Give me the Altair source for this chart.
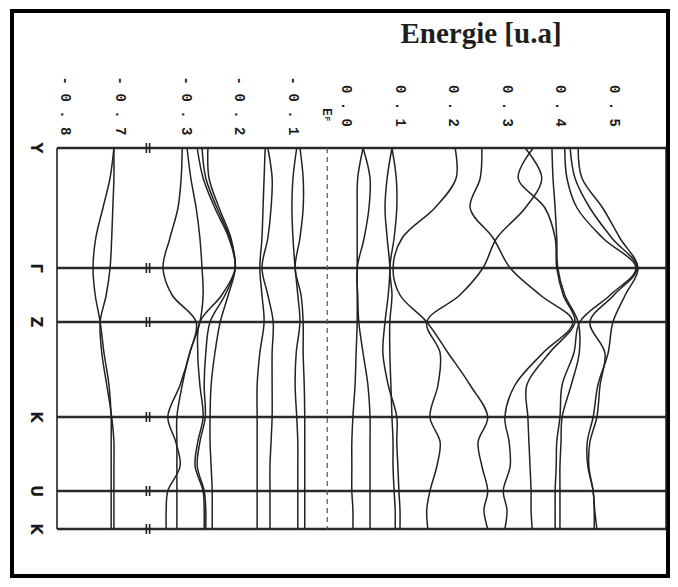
import altair as alt
import pandas as pd

# ---------------- data ----------------
# k-path sample positions (top = Y, bottom = K)
k_samples = [0, 30, 60, 90, 120, 147, 174, 205, 237, 269, 294, 318, 343, 362, 381]
kpoint_labels = ["Y", "Γ", "Z", "K", "U", "K"]
kpoint_pos = [0, 120, 174, 269, 343, 381]

tick_values = [-0.8, -0.7, -0.3, -0.2, -0.1, 0.0, 0.1, 0.2, 0.3, 0.4, 0.5]
tick_labels = ["-0.8", "-0.7", "-0.3", "-0.2", "-0.1", "0.0", "0.1", "0.2", "0.3", "0.4", "0.5"]
fermi_level = -0.036
axis_break = [-0.652, -0.368]

# band energies (u.a) at each k sample
band_L1 = [-0.711, -0.718, -0.731, -0.744, -0.749, -0.745, -0.736, -0.729, -0.720, -0.716, -0.716, -0.716, -0.716, -0.716, -0.716]
band_L2 = [-0.711, -0.711, -0.713, -0.715, -0.718, -0.725, -0.736, -0.733, -0.724, -0.715, -0.711, -0.711, -0.711, -0.711, -0.711]
band_A = [-0.307, -0.309, -0.315, -0.330, -0.343, -0.326, -0.281, -0.293, -0.311, -0.334, -0.319, -0.311, -0.334, -0.337, -0.337]
band_B = [-0.298, -0.291, -0.281, -0.274, -0.270, -0.268, -0.274, -0.293, -0.307, -0.317, -0.317, -0.317, -0.317, -0.317, -0.317]
band_D1 = [-0.279, -0.268, -0.246, -0.220, -0.208, -0.233, -0.274, -0.278, -0.274, -0.268, -0.278, -0.283, -0.268, -0.266, -0.266]
band_D2 = [-0.270, -0.263, -0.242, -0.218, -0.208, -0.227, -0.255, -0.263, -0.266, -0.264, -0.274, -0.279, -0.266, -0.263, -0.263]
band_D3 = [-0.259, -0.257, -0.238, -0.216, -0.208, -0.221, -0.236, -0.246, -0.253, -0.255, -0.255, -0.253, -0.251, -0.251, -0.251]
band_E1 = [-0.152, -0.154, -0.156, -0.158, -0.162, -0.158, -0.154, -0.162, -0.167, -0.167, -0.167, -0.167, -0.167, -0.167, -0.167]
band_E2 = [-0.147, -0.139, -0.141, -0.147, -0.158, -0.147, -0.137, -0.139, -0.139, -0.139, -0.141, -0.143, -0.143, -0.143, -0.143]
band_F1 = [-0.093, -0.100, -0.102, -0.100, -0.096, -0.091, -0.087, -0.094, -0.096, -0.093, -0.091, -0.091, -0.091, -0.091, -0.091]
band_F2 = [-0.087, -0.081, -0.081, -0.087, -0.096, -0.085, -0.081, -0.081, -0.079, -0.078, -0.078, -0.078, -0.078, -0.078, -0.078]
band_G1 = [0.031, 0.021, 0.020, 0.020, 0.020, 0.020, 0.020, 0.018, 0.016, 0.012, 0.010, 0.010, 0.010, 0.012, 0.012]
band_G2 = [0.031, 0.044, 0.042, 0.033, 0.020, 0.021, 0.023, 0.031, 0.040, 0.044, 0.044, 0.044, 0.044, 0.044, 0.044]
band_H1 = [0.085, 0.076, 0.072, 0.076, 0.081, 0.078, 0.072, 0.068, 0.078, 0.094, 0.094, 0.096, 0.098, 0.100, 0.100]
band_H2 = [0.085, 0.093, 0.094, 0.089, 0.081, 0.085, 0.081, 0.081, 0.083, 0.085, 0.087, 0.087, 0.089, 0.091, 0.091]
band_I = [0.203, 0.205, 0.165, 0.104, 0.087, 0.100, 0.150, 0.190, 0.231, 0.264, 0.246, 0.253, 0.264, 0.257, 0.264]
band_K = [0.334, 0.365, 0.334, 0.281, 0.255, 0.212, 0.150, 0.175, 0.171, 0.156, 0.175, 0.169, 0.156, 0.150, 0.152]
band_J = [0.253, 0.250, 0.231, 0.274, 0.306, 0.362, 0.423, 0.367, 0.315, 0.296, 0.304, 0.306, 0.293, 0.300, 0.296]
band_Lb = [0.349, 0.321, 0.371, 0.390, 0.393, 0.405, 0.427, 0.379, 0.337, 0.339, 0.341, 0.343, 0.345, 0.345, 0.347]
band_M = [0.384, 0.386, 0.390, 0.393, 0.395, 0.408, 0.433, 0.435, 0.420, 0.403, 0.401, 0.399, 0.399, 0.399, 0.399]
band_N1 = [0.408, 0.412, 0.431, 0.479, 0.541, 0.493, 0.436, 0.425, 0.403, 0.399, 0.393, 0.392, 0.390, 0.390, 0.390]
band_N2 = [0.418, 0.427, 0.455, 0.496, 0.543, 0.500, 0.455, 0.483, 0.474, 0.468, 0.455, 0.453, 0.461, 0.464, 0.468]
band_N3 = [0.433, 0.440, 0.479, 0.511, 0.545, 0.521, 0.498, 0.489, 0.470, 0.461, 0.450, 0.451, 0.461, 0.463, 0.463]

bands = {
    "L1": band_L1, "L2": band_L2, "A": band_A, "B": band_B, "D1": band_D1,
    "D2": band_D2, "D3": band_D3, "E1": band_E1, "E2": band_E2, "F1": band_F1,
    "F2": band_F2, "G1": band_G1, "G2": band_G2, "H1": band_H1, "H2": band_H2,
    "I": band_I, "K": band_K, "J": band_J, "Lb": band_Lb, "M": band_M,
    "N1": band_N1, "N2": band_N2, "N3": band_N3,
}

# ---------------- layout ----------------
W, H = 609, 381
x_domain = [-0.8145, -0.649, -0.371, 0.5972]   # broken energy axis
x_range = [0, 91, 91, W]
INK = "#222222"

xscale = alt.Scale(domain=x_domain, range=x_range, zero=False, nice=False)
yscale = alt.Scale(domain=[0, 381], reverse=True, zero=False, nice=False)


def X(field="E"):
    return alt.X(f"{field}:Q", scale=xscale, axis=None)


def Y(field="k"):
    return alt.Y(f"{field}:Q", scale=yscale, axis=None)


band_rows = []
for name, vals in bands.items():
    for k, e in zip(k_samples, vals):
        band_rows.append({"band": name, "k": k, "E": e})
band_df = pd.DataFrame(band_rows)

kp_df = pd.DataFrame({"k": kpoint_pos, "label": kpoint_labels})
tick_df = pd.DataFrame({"E": tick_values, "label": tick_labels})
tick_df["disp"] = [" ".join(list(t)) for t in tick_labels]
frame_df = pd.DataFrame({"E": [x_domain[0], x_domain[-1]]})
fermi_df = pd.DataFrame({"E": [fermi_level]})
brk_df = pd.DataFrame([{"k": k, "E": e} for k in kpoint_pos for e in axis_break])
one = pd.DataFrame({"a": [0]})

band_lines = alt.Chart(band_df).mark_line(
    interpolate="catmull-rom", color=INK, strokeWidth=1.5
).encode(x=X(), y=Y(), detail="band:N", order=alt.Order("k:Q"))

k_lines = alt.Chart(kp_df).mark_rule(color="#2a2a2a", strokeWidth=2.6).encode(
    y=Y(), x=alt.value(0), x2=alt.value(W)
)

frame = alt.Chart(frame_df).mark_rule(color=INK, strokeWidth=1.6).encode(
    x=X(), y=alt.value(0), y2=alt.value(H)
)

fermi = alt.Chart(fermi_df).mark_rule(color="#555555", strokeWidth=1.2, strokeDash=[5, 4]).encode(
    x=X(), y=alt.value(0), y2=alt.value(H)
)

breaks = alt.Chart(brk_df).transform_calculate(
    k_lo="datum.k - 5", k_hi="datum.k + 5"
).mark_rule(color=INK, strokeWidth=1.6).encode(x=X(), y=Y("k_lo"), y2="k_hi:Q")

tick_text = alt.Chart(tick_df).mark_text(
    angle=90, font="Liberation Mono", fontWeight="bold", fontSize=14,
    align="center", baseline="middle", color="#1a1a1a"
).encode(x=X(), y=alt.value(-42), text="disp:N")

ef_E = alt.Chart(fermi_df).mark_text(
    angle=90, font="Liberation Mono", fontWeight="bold", fontSize=13,
    align="center", baseline="middle", color="#1a1a1a", dx=5
).encode(x=X(), y=alt.value(-41), text=alt.value("E"))

ef_F = alt.Chart(fermi_df).mark_text(
    angle=90, font="Liberation Mono", fontWeight="bold", fontSize=8,
    align="center", baseline="middle", color="#1a1a1a", dx=-2
).encode(x=X(), y=alt.value(-27), text=alt.value("F"))

kp_text = alt.Chart(kp_df).mark_text(
    angle=90, font="DejaVu Sans", fontWeight="bold", fontSize=15,
    align="center", baseline="middle", color="#1a1a1a", dy=4
).encode(x=alt.value(-17), y=Y(), text="label:N")

title = alt.Chart(one).mark_text(
    font="Liberation Serif", fontWeight="bold", fontSize=29,
    align="center", baseline="alphabetic", color="#1e1e1e"
).encode(x=alt.value(424), y=alt.value(-105), text=alt.value("Energie [u.a]"))

border = alt.Chart(one).mark_rect(
    fillOpacity=0, stroke="black", strokeWidth=4
).encode(x=alt.value(-45), x2=alt.value(W + 2), y=alt.value(-137), y2=alt.value(H + 47))

chart = alt.layer(
    border, k_lines, frame, fermi, breaks, band_lines,
    tick_text, ef_E, ef_F, kp_text, title
).properties(
    width=W, height=H,
    autosize=alt.AutoSizeParams(type="none"),
    padding={"left": 49, "top": 140, "right": 4, "bottom": 50},
    background="white",
).configure_view(strokeWidth=0)

chart.save("out.html", embed_options={"renderer": "svg", "actions": False})
